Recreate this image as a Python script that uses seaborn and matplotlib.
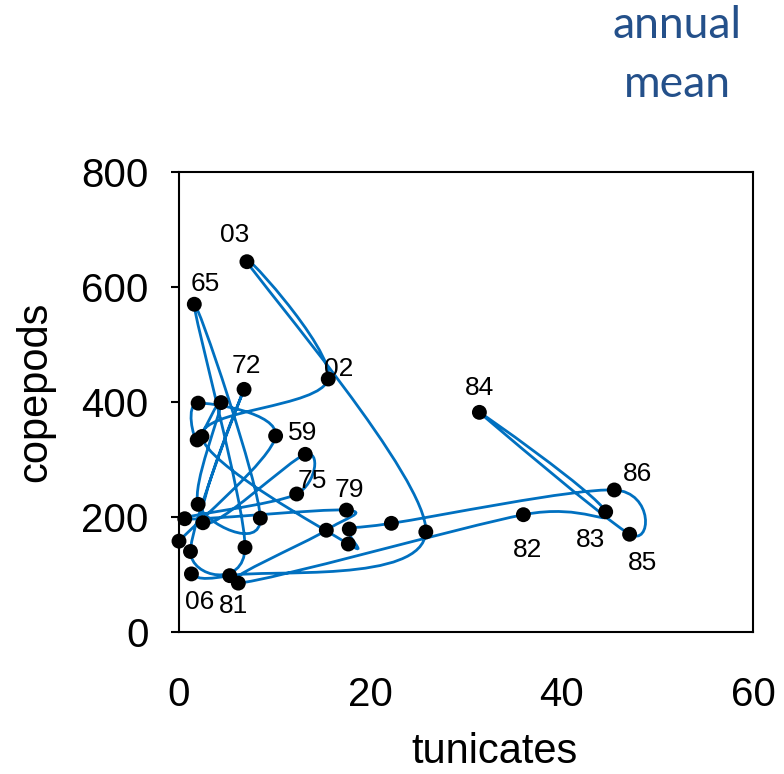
import numpy as np
import pandas as pd
import seaborn as sns
import matplotlib
matplotlib.use("Agg")
import matplotlib.pyplot as plt
from matplotlib.path import Path
from matplotlib.patches import PathPatch

# ---- data (annual means, in chronological plotting order) ----
years = [1958, 1959, 1960, 1961, 1962, 1963, 1964, 1965, 1966, 1969,
         1972, 1973, 1974, 1975, 1977, 1979, 1980, 1981, 1982, 1983,
         1984, 1985, 1986, 1987, 1990, 1995, 2001, 2002, 2003, 2004,
         2005, 2006]
tunicates = [0.0, 10.1, 2.0, 1.9, 4.4, 2.0, 8.5, 1.6, 6.9, 1.2,
             6.8, 2.5, 13.2, 12.3, 0.6, 17.5, 15.4, 6.2, 36.0, 44.6,
             31.4, 47.1, 45.5, 22.2, 17.8, 17.7, 2.4, 15.6, 7.1, 25.8,
             5.3, 1.3]
copepods = [158, 341, 398, 334, 399, 222, 198, 570, 147, 140,
            422, 190, 309, 240, 197, 212, 177, 85, 204, 209,
            382, 170, 247, 189, 179, 153, 340, 440, 644, 174,
            98, 101]
label_years = [1959, 1965, 1972, 1975, 1979, 1981, 1982, 1983, 1984,
               1985, 1986, 2002, 2003, 2006]
label_offsets = {1959: (27, -3), 1965: (11, -20), 1972: (2, -23),
                 1975: (16, -13), 1979: (3, -20), 1981: (-5, 23),
                 1982: (4, 35), 1983: (-15, 28), 1984: (0, -24),
                 1985: (13, 29), 1986: (23, -16), 2002: (10, -10),
                 2003: (-12, -27), 2006: (8, 28)}

df = pd.DataFrame({"year": years, "tunicates": tunicates, "copepods": copepods})

sns.set_theme(style="white")
plt.rcParams["font.family"] = ["Liberation Sans", "DejaVu Sans"]

W, H = 784, 774
fig = plt.figure(figsize=(W / 100, H / 100), dpi=100)
ax_l, ax_r, ax_t, ax_b = 179, 753, 172, 632
ax = fig.add_axes([ax_l / W, 1 - ax_b / H, (ax_r - ax_l) / W, (ax_b - ax_t) / H])

xmax, ymax = 60, 800
sx = (ax_r - ax_l) / xmax
sy = (ax_b - ax_t) / ymax

# smoothed connecting line (Bezier through the points, like a spreadsheet "smoothed line")
P = np.column_stack([df["tunicates"].to_numpy() * sx, df["copepods"].to_numpy() * sy])
n = len(P)
verts = [P[0]]
codes = [Path.MOVETO]
for i in range(n - 1):
    p_prev = P[i - 1] if i > 0 else P[i]
    p_next2 = P[i + 2] if i + 2 < n else P[i + 1]
    c1 = P[i] + (P[i + 1] - p_prev) / 6.0
    c2 = P[i + 1] - (p_next2 - P[i]) / 6.0
    verts += [c1, c2, P[i + 1]]
    codes += [Path.CURVE4] * 3
verts = np.array(verts) / np.array([sx, sy])
ax.add_patch(PathPatch(Path(verts, codes), facecolor="none", edgecolor="#0070C0",
                       lw=2.0, zorder=2, clip_on=False))

sns.scatterplot(data=df, x="tunicates", y="copepods", color="black", s=115,
                edgecolor="none", ax=ax, zorder=3, legend=False, clip_on=False)

for yr in label_years:
    row = df[df["year"] == yr].iloc[0]
    dx, dy = label_offsets[yr]
    ax.annotate(f"{yr % 100:02d}", (row["tunicates"], row["copepods"]),
                xytext=(dx * 0.72, -dy * 0.72), textcoords="offset points",
                ha="center", va="center", fontsize=19, color="black", zorder=4)

ax.set_xlim(0, xmax)
ax.set_ylim(0, ymax)
ax.set_xticks([0, 20, 40, 60])
ax.set_yticks([0, 200, 400, 600, 800])
ax.set_xlabel("")
ax.set_ylabel("")
for sp in ax.spines.values():
    sp.set_visible(True)
    sp.set_color("black")
    sp.set_linewidth(1.5)
ax.tick_params(axis="both", direction="out", length=6, width=1.5, colors="black",
               labelsize=29, left=True, bottom=False)
ax.tick_params(axis="y", pad=16)
ax.tick_params(axis="x", pad=26)

fig.text(35 / W, 1 - 392 / H, "copepods", rotation=90, ha="center", va="center",
         fontsize=30, color="black")
fig.text(495 / W, 1 - 752 / H, "tunicates", ha="center", va="center",
         fontsize=30, color="black")

title_color = "#24508A"
fig.text(677 / W, 1 - 38 / H, "annual", ha="center", va="baseline",
         fontsize=32, color=title_color, family=["Lato", "DejaVu Sans"])
fig.text(677 / W, 1 - 97 / H, "mean", ha="center", va="baseline",
         fontsize=32, color=title_color, family=["Lato", "DejaVu Sans"])

fig.savefig("out.png", dpi=100)
